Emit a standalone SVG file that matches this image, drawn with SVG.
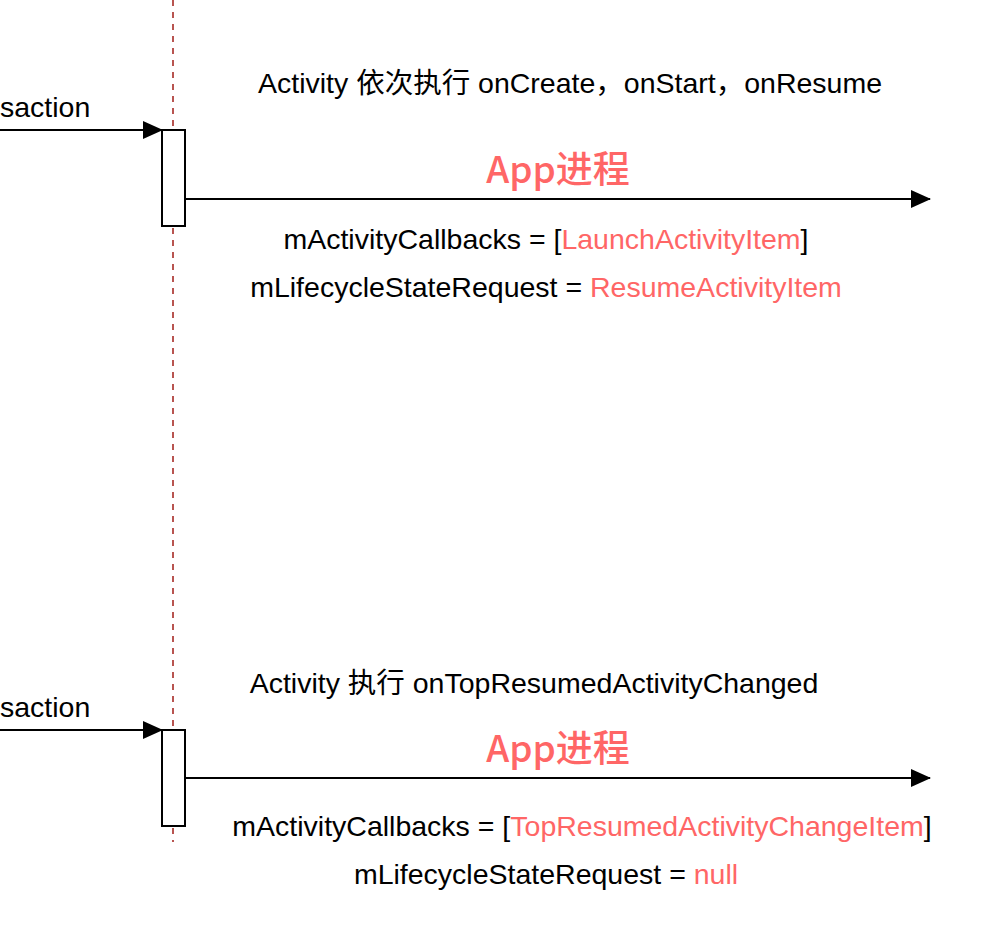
<svg xmlns="http://www.w3.org/2000/svg" width="996" height="940" viewBox="0 0 996 940">
<style>
.t{font-family:"Liberation Sans",Arial,"Noto Sans CJK SC",sans-serif;font-size:28.5px;fill:#000}
.r{fill:#FF6666}
.app{font-family:"Noto Sans CJK SC","Liberation Sans",sans-serif;font-size:37px;fill:#FF6666;font-weight:500}
.ln{stroke:#000;stroke-width:2;fill:none}
.box{fill:#fff;stroke:#000;stroke-width:2}
</style>
<defs>
<marker id="ar" markerWidth="20" markerHeight="18" refX="19" refY="9" orient="auto" markerUnits="userSpaceOnUse">
<path d="M0,0 L20,9 L0,18 Z" fill="#000"/>
</marker>
</defs>
<rect width="996" height="940" fill="#fff"/>
<g id="lifeline">
<line x1="173" y1="0" x2="173" y2="842" stroke="#B85450" stroke-width="2" stroke-dasharray="6,6"/>
</g>
<g id="connectors">
<line class="ln" x1="0" y1="130" x2="162" y2="130" marker-end="url(#ar)"/>
<line class="ln" x1="185" y1="199" x2="930" y2="199" marker-end="url(#ar)"/>
<line class="ln" x1="0" y1="730" x2="162" y2="730" marker-end="url(#ar)"/>
<line class="ln" x1="185" y1="778" x2="930" y2="778" marker-end="url(#ar)"/>
</g>
<g id="act1"><rect class="box" x="162" y="130" width="23" height="96"/></g>
<g id="act2"><rect class="box" x="162" y="730" width="23" height="96"/></g>
<g id="labels">
<text class="t" x="0" y="117">saction</text>
<text class="t" x="0" y="717">saction</text>
<text class="t" x="570" y="93" text-anchor="middle">Activity 依次执行 onCreate，onStart，onResume</text>
<text class="app" x="558" y="183" text-anchor="middle">App进程</text>
<text class="t" x="546" y="249" text-anchor="middle">mActivityCallbacks = [<tspan class="r">LaunchActivityItem</tspan>]</text>
<text class="t" x="546" y="297" text-anchor="middle">mLifecycleStateRequest = <tspan class="r">ResumeActivityItem</tspan></text>
<text class="t" x="534" y="693" text-anchor="middle">Activity 执行 onTopResumedActivityChanged</text>
<text class="app" x="558" y="762" text-anchor="middle">App进程</text>
<text class="t" x="582" y="836" text-anchor="middle">mActivityCallbacks = [<tspan class="r">TopResumedActivityChangeItem</tspan>]</text>
<text class="t" x="546" y="884" text-anchor="middle">mLifecycleStateRequest = <tspan class="r">null</tspan></text>
</g>
</svg>
